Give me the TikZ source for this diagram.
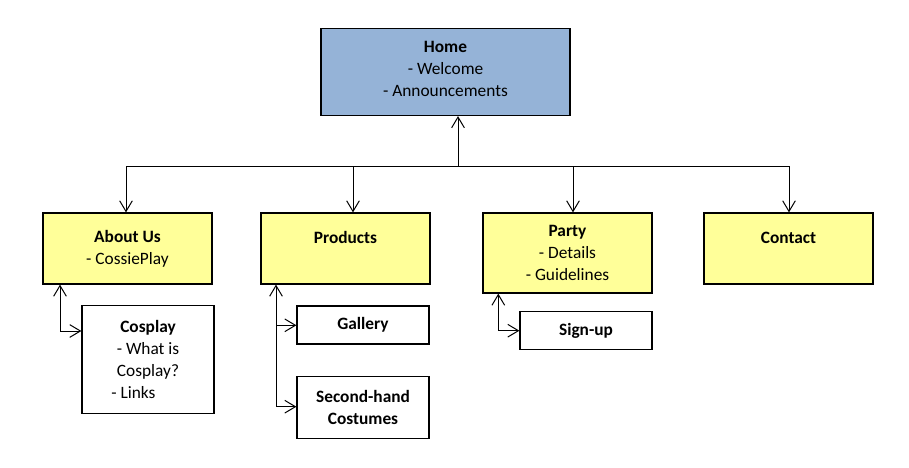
\documentclass[tikz,border=0pt]{standalone}
\usepackage{fontspec}
\setmainfont{Carlito}
\usetikzlibrary{arrows.meta}
\definecolor{homeblue}{HTML}{95B3D7}
\definecolor{pageyellow}{HTML}{FFFF99}
\tikzset{
  box/.style={draw=black, line width=0.9pt, inner sep=0pt, align=center,
    font=\fontsize{13}{16.5}\selectfont},
  bigbox/.style={box, minimum width=126.75pt, minimum height=53.25pt, fill=pageyellow},
  subbox/.style={box, minimum width=99pt, fill=white},
  conn/.style={line width=0.75pt, arrows={-Straight Barb[length=8pt,width=9.5pt,line width=0.75pt]}},
  conn2/.style={line width=0.75pt, arrows={Straight Barb[length=8pt,width=9.5pt,line width=0.75pt]-Straight Barb[length=8pt,width=9.5pt,line width=0.75pt]}},
  plain/.style={line width=0.75pt}
}
\begin{document}
\begin{tikzpicture}[x=0.75pt,y=-0.75pt]
\useasboundingbox[fill=white] (0,0) rectangle (909,467);
% top level
\node[box, fill=homeblue, minimum width=186.75pt, minimum height=65.25pt] (home) at (445.5,72)
  {\textbf{Home}\\- Welcome\\- Announcements\\[-12pt]\mbox{}};
\node[bigbox] (about) at (127.5,248.5) {\textbf{About Us}\\- CossiePlay};
\node[bigbox] (products) at (345.5,248.5) {\textbf{Products}\\\mbox{}};
\node[bigbox, minimum height=60pt] (party) at (567.5,253) {\textbf{Party}\\- Details\\- Guidelines};
\node[bigbox] (contact) at (788.5,248.5) {\textbf{Contact}\\\mbox{}};
% sub pages
\node[subbox, minimum height=81pt] (cosplay) at (148,359.8)
  {\textbf{Cosplay}\\- What is\\Cosplay?\\\hspace*{-22pt}- Links};
\node[subbox, minimum height=28.5pt] (gallery) at (363,325) {\textbf{Gallery}};
\node[subbox, minimum height=46.5pt] (second) at (363,407.3) {\textbf{Second-hand}\\\textbf{Costumes}};
\node[subbox, minimum height=28.5pt] (signup) at (586,330.5) {\textbf{Sign-up}};
% bus
\coordinate (jh) at (458,166);
\coordinate (ja) at (126,166);
\coordinate (jp) at (353,166);
\coordinate (jy) at (573,166);
\coordinate (jc) at (789,166);
\draw[plain] (ja) -- (jc);
\draw[conn] (jh) -- (jh |- home.south);
\draw[conn] (ja) -- (ja |- about.north);
\draw[conn] (jp) -- (jp |- products.north);
\draw[conn] (jy) -- (jy |- party.north);
\draw[conn] (jc) -- (jc |- contact.north);
% about -> cosplay
\coordinate (c1) at (60,331);
\draw[conn2] (c1 |- about.south) -- (c1) -- (cosplay.west |- c1);
% products -> gallery, second-hand
\coordinate (p1) at (276,325.3);
\coordinate (p2) at (276,406.7);
\draw[conn2] (p1 |- products.south) -- (p2) -- (second.west |- p2);
\draw[conn] (p1) -- (gallery.west |- p1);
% party -> sign-up
\coordinate (s1) at (498.3,330.7);
\draw[conn2] (s1 |- party.south) -- (s1) -- (signup.west |- s1);
\end{tikzpicture}
\end{document}
